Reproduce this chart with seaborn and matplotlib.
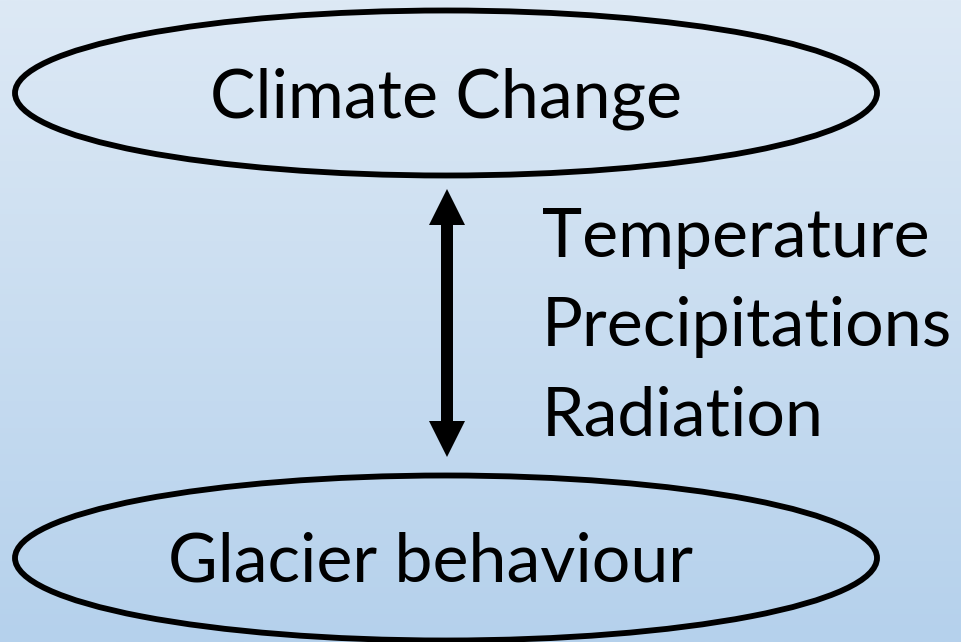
import numpy as np
import matplotlib
matplotlib.use("Agg")
import matplotlib.pyplot as plt
from matplotlib.patches import Ellipse, FancyArrow
from matplotlib.colors import LinearSegmentedColormap
import seaborn as sns

# diagram content
node_labels = ["Climate Change", "Glacier behaviour"]
factor_labels = ["Temperature", "Precipitations", "Radiation"]

W, H = 961, 642
FONT = ["Lato", "DejaVu Sans"]
FS = 49


def draw_background(ax):
    cmap = LinearSegmentedColormap.from_list("bg", ["#dde9f5", "#b5d1ec"])
    grad = np.linspace(0, 1, 256).reshape(-1, 1)
    ax.imshow(grad, cmap=cmap, aspect="auto", extent=(0, W, H, 0), zorder=0)


def draw_node(ax, label, cy, tx):
    ax.add_patch(Ellipse((446, cy), 862, 165, facecolor="none",
                         edgecolor="black", lw=4.2, zorder=2))
    ax.text(tx, cy + 24, label, ha="center", va="baseline",
            fontsize=FS, family=FONT, color="black", zorder=3)


def main():
    sns.set_theme(style="white")
    plt.rcParams["font.family"] = FONT

    fig = plt.figure(figsize=(W / 100, H / 100), dpi=100)
    ax = fig.add_axes([0, 0, 1, 1])
    ax.set_xlim(0, W)
    ax.set_ylim(H, 0)
    ax.axis("off")

    draw_background(ax)
    draw_node(ax, node_labels[0], 93, 446)
    draw_node(ax, node_labels[1], 558, 431)

    # double-headed arrow, built as two arrows from the middle
    mid = 323
    for end in (189, 457):
        ax.add_patch(FancyArrow(447, mid, 0, end - mid, width=12,
                                head_width=36, head_length=36,
                                length_includes_head=True,
                                color="black", lw=0, zorder=2))

    for i, lab in enumerate(factor_labels):
        ax.text(542, 257 + i * 89, lab, ha="left", va="baseline",
                fontsize=FS, family=FONT, color="black", zorder=3)

    fig.savefig("out.png", dpi=100)


if __name__ == "__main__":
    main()
